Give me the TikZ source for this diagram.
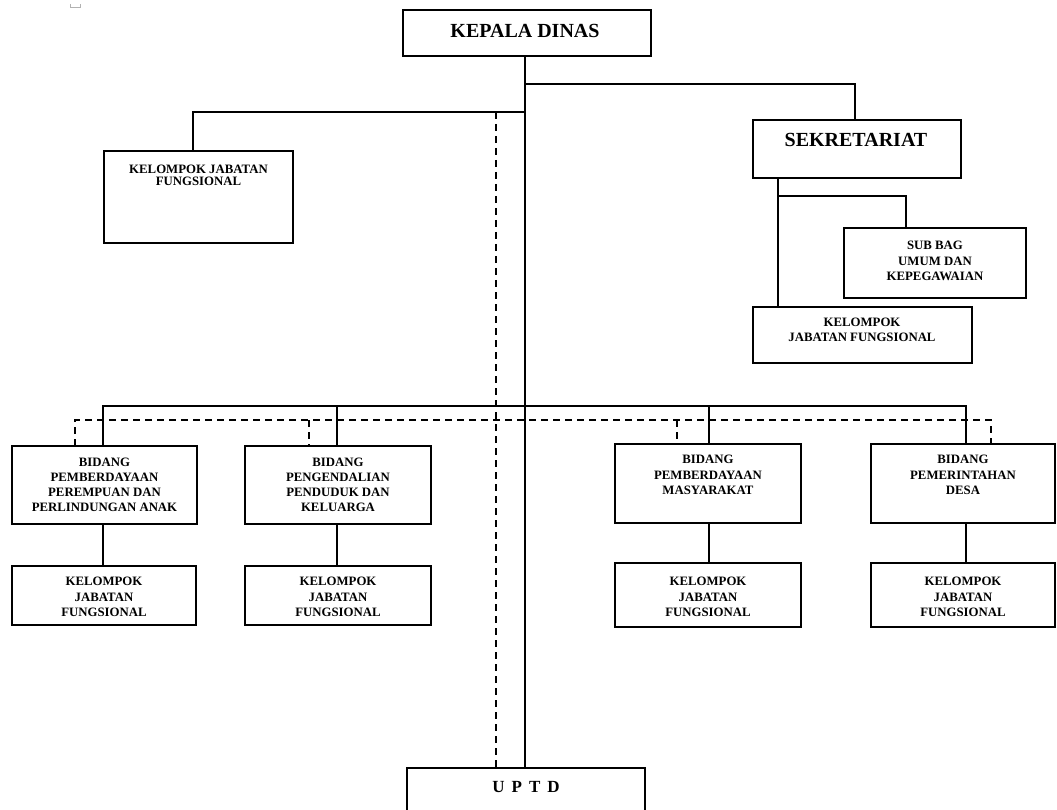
\documentclass[tikz,border=0pt]{standalone}
\usepackage{fontspec}
\setmainfont{Liberation Serif}
\begin{document}
\begin{tikzpicture}[x=1pt,y=-1pt,
  box/.style={draw=black, line width=2.8pt, inner sep=0pt, outer sep=0pt, anchor=north west},
  conn/.style={draw=black, line width=2.6pt},
  dconn/.style={draw=black, line width=1.5pt, dash pattern=on 7pt off 5pt},
  txt/.style={align=center, inner sep=0pt, font=\fontsize{12.8}{15.2}\selectfont\bfseries},
  txtb/.style={align=center, inner sep=0pt, font=\fontsize{20}{22}\selectfont\bfseries}]
\useasboundingbox (0,0) rectangle (1057,810);
\clip (0,0) rectangle (1057,810);
% small artifact
\draw[gray!60, line width=0.8pt] (70,4) -- (70,7) -- (80,7) -- (80,4);
% boxes
\node[box, minimum width=248pt, minimum height=46pt] (kd) at (403,10) {};
\node[box, minimum width=189pt, minimum height=92pt] (kjf0) at (104,151) {};
\node[box, minimum width=208pt, minimum height=58pt] (sek) at (753,120) {};
\node[box, minimum width=182pt, minimum height=70pt] (sub) at (844,228) {};
\node[box, minimum width=219pt, minimum height=56pt] (kjfs) at (753,307) {};
\node[box, minimum width=185pt, minimum height=78pt] (b1) at (12,446) {};
\node[box, minimum width=186pt, minimum height=78pt] (b2) at (245,446) {};
\node[box, minimum width=186pt, minimum height=79pt] (b3) at (615,444) {};
\node[box, minimum width=184pt, minimum height=79pt] (b4) at (871,444) {};
\node[box, minimum width=184pt, minimum height=59pt] (k1) at (12,566) {};
\node[box, minimum width=186pt, minimum height=59pt] (k2) at (245,566) {};
\node[box, minimum width=186pt, minimum height=64pt] (k3) at (615,563) {};
\node[box, minimum width=184pt, minimum height=64pt] (k4) at (871,563) {};
\node[box, minimum width=238pt, minimum height=70pt] (uptd) at (407,768) {};
% texts
\node[txtb] (kdt) at (525,31) {KEPALA DINAS};
\node[txt, font=\fontsize{12.8}{12}\selectfont\bfseries] (kjf0t) at (198.5,175) {KELOMPOK JABATAN\\FUNGSIONAL};
\node[txtb] (sekt) at (856,140) {SEKRETARIAT};
\node[txt] (subt) at (935,261) {SUB BAG\\UMUM DAN\\KEPEGAWAIAN};
\node[txt] (kjfst) at (862,330) {KELOMPOK\\JABATAN FUNGSIONAL};
\node[txt] (b1t) at (104.5,485) {BIDANG\\PEMBERDAYAAN\\PEREMPUAN DAN\\PERLINDUNGAN ANAK};
\node[txt] (b2t) at (338,485) {BIDANG\\PENGENDALIAN\\PENDUDUK DAN\\KELUARGA};
\node[txt] (b3t) at (708,475) {BIDANG\\PEMBERDAYAAN\\MASYARAKAT};
\node[txt] (b4t) at (963,475) {BIDANG\\PEMERINTAHAN\\DESA};
\node[txt] (k1t) at (104,597) {KELOMPOK\\JABATAN\\FUNGSIONAL};
\node[txt] (k2t) at (338,597) {KELOMPOK\\JABATAN\\FUNGSIONAL};
\node[txt] (k3t) at (708,597) {KELOMPOK\\JABATAN\\FUNGSIONAL};
\node[txt] (k4t) at (963,597) {KELOMPOK\\JABATAN\\FUNGSIONAL};
\node[inner sep=0pt, font=\fontsize{17}{20}\selectfont\bfseries] (uptdt) at (526,787) {U\hspace{7pt}P\hspace{7pt}T\hspace{7pt}D};
% coordinates
\coordinate (m0) at (525,56);
\coordinate (mr) at (525,84);
\coordinate (ml) at (525,112);
\coordinate (mb) at (525,406);
\coordinate (d0) at (496,112);
\coordinate (db) at (496,420);
% solid connectors
\draw[conn] (kd.south -| m0) -- (uptd.north -| m0);
\draw[conn] (mr) -| (sek.north -| 855,0);
\draw[conn] (ml) -| (kjf0.north -| 193,0);
\draw[conn] (sek.south -| 778,0) -- (kjfs.north -| 778,0);
\draw[conn] (778,196) -| (sub.north -| 906,0);
\draw[conn] (b1.north -| 103,0) |- (mb) -| (b4.north -| 966,0);
\draw[conn] (mb -| 337,0) -- (b2.north -| 337,0);
\draw[conn] (mb -| 709,0) -- (b3.north -| 709,0);
\draw[conn] (b1.south -| 103,0) -- (k1.north -| 103,0);
\draw[conn] (b2.south -| 337,0) -- (k2.north -| 337,0);
\draw[conn] (b3.south -| 709,0) -- (k3.north -| 709,0);
\draw[conn] (b4.south -| 966,0) -- (k4.north -| 966,0);
% dashed connectors
\draw[dconn] (d0) -- (uptd.north -| d0);
\draw[dconn] (b1.north -| 75,0) |- (db) -| (b4.north -| 991,0);
\draw[dconn] (db -| 309,0) -- (b2.north -| 309,0);
\draw[dconn] (db -| 677,0) -- (b3.north -| 677,0);
\end{tikzpicture}
\end{document}
